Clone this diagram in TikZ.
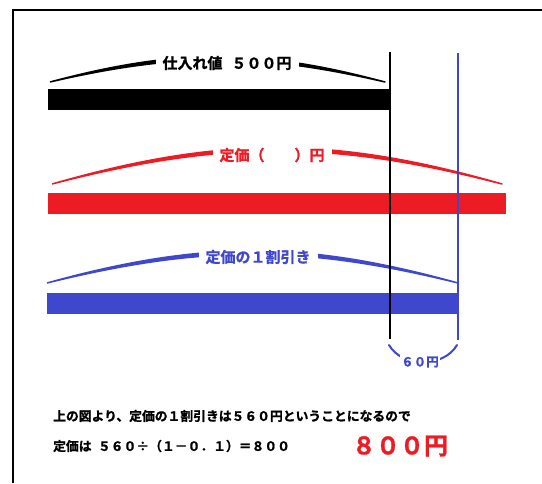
\documentclass[tikz,border=0pt]{standalone}
\usepackage{fontspec}
\newfontfamily\jpfont{Noto Sans CJK JP Bold}[FakeBold=1.2]
\definecolor{barred}{RGB}{237,28,36}
\definecolor{barblue}{RGB}{63,72,204}

\begin{document}
\begin{tikzpicture}[x=1pt, y=-1pt,
 bracearc/.style={line width=1.5pt, line join=round},
 lbl/.style={fill=white, inner xsep=7pt, inner ysep=2pt, font=\jpfont\fontsize{15}{15}\selectfont},
 txt/.style={anchor=west, inner sep=0pt, font=\jpfont\fontsize{12.8}{12.8}\selectfont}]
 \useasboundingbox (0,0) rectangle (542,483);
 \draw[line width=1.5pt] (542,10) -- (13,10) -- (13,483);

 % bars
 \fill[black] (48,89) rectangle (389,110);
 \fill[barred] (48,193) rectangle (506,214);
 \fill[barblue] (47,293) rectangle (458,314);

 % braces over the bars
 \coordinate (costL) at (50,82);
 \coordinate (costR) at (385,82);
 \filldraw[bracearc] (costL) to[bend left=15] (costR) to[bend right=13] (costL);
 \coordinate (listL) at (52,184);
 \coordinate (listR) at (502,184);
 \filldraw[bracearc, barred] (listL) to[bend left=16] (listR) to[bend right=14.5] (listL);
 \coordinate (saleL) at (47,283);
 \coordinate (saleR) at (458,283);
 \filldraw[bracearc, barblue] (saleL) to[bend left=15.5] (saleR) to[bend right=13.8] (saleL);

 % marks at the ends of the bars
 \coordinate (costTop) at (390,52);
 \coordinate (costBot) at (390,339);
 \draw[line width=1.8pt] (costTop) -- (costBot);
 \coordinate (saleTop) at (458,53);
 \coordinate (saleBot) at (458,340);
 \draw[barblue, line width=1.8pt] (saleTop) -- (saleBot);
 \coordinate (gapL) at (389,345);
 \coordinate (gapR) at (457,345);
 \draw[barblue, line width=2pt, line cap=round] (gapL) to[bend right=60] (gapR);

 \node[lbl] (costLabel) at (227,63) {仕入れ値\hspace{0.6em}５００円};
 \node[lbl, text=barred] (listLabel) at (272,155) {定価（　　）円};
 \node[lbl, text=barblue] (saleLabel) at (258,257) {定価の１割引き};
 \node[lbl, inner xsep=1pt, text=barblue, font=\jpfont\fontsize{12.5}{12.5}\selectfont] (gapLabel) at (420,362) {６０円};

 % the answer
 \node[txt] (lineA) at (53,416) {上の図より、定価の１割引きは５６０円ということになるので};
 \node[txt] (lineB) at (53,446) {定価は\enspace ５６０÷（１－０．１）＝８００};
 \node[text=barred, inner sep=0pt, font=\jpfont\fontsize{24}{24}\selectfont] (answer) at (400,446) {８００円};
\end{tikzpicture}
\end{document}
